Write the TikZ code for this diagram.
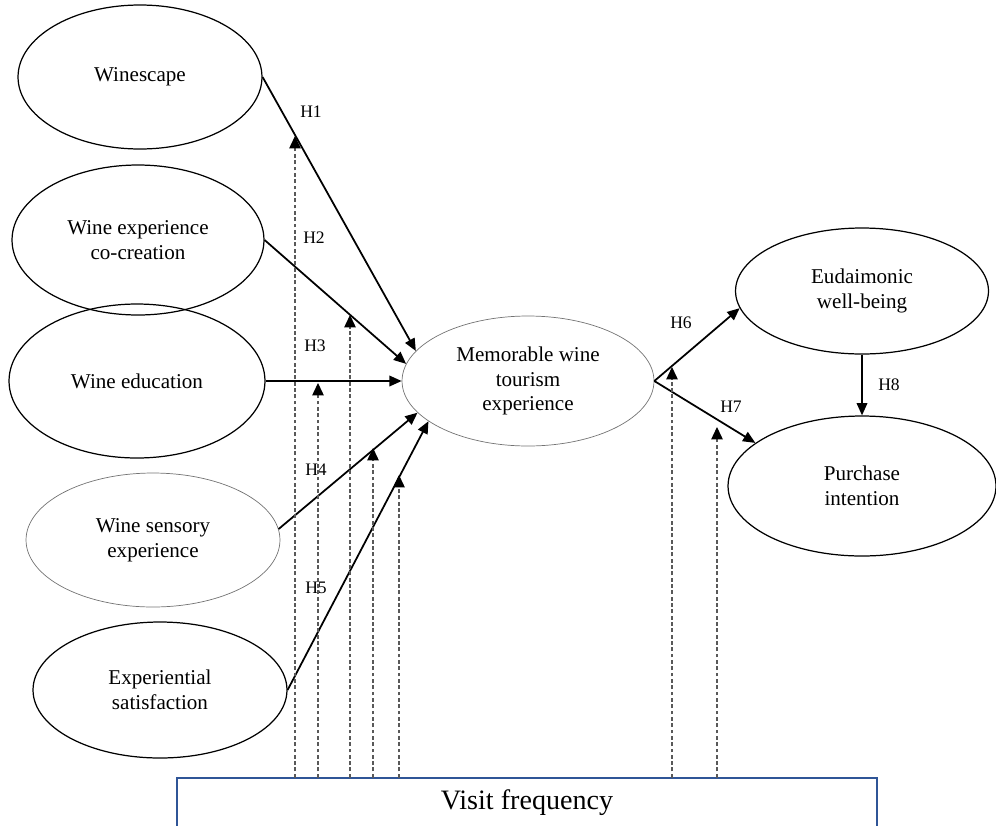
\documentclass[tikz,border=0pt]{standalone}
\usepackage{fontspec}
\setmainfont{Liberation Serif}
\usetikzlibrary{shapes,arrows.meta}
\definecolor{boxblue}{RGB}{47,85,151}

\begin{document}
\begin{tikzpicture}[x=0.02cm, y=-0.02cm,
  construct/.style={ellipse, draw, line width=0.7pt, inner sep=0pt, align=center, font=\fontsize{12}{14}\selectfont},
  faint/.style={draw=black!55, line width=0.4pt},
  hyp/.style={line width=1pt, -{Triangle[length=7pt,width=6pt]}},
  moderator/.style={draw=black!65, line width=0.6pt, dash pattern=on 2.2pt off 1.4pt, -{Triangle[length=7pt,width=6.5pt,black]}},
  hlabel/.style={font=\fontsize{10}{12}\selectfont}]
\useasboundingbox (0,0) rectangle (996,825);

% constructs
\node [construct, minimum width=4.88cm, minimum height=2.88cm] (wsc) at (140,77) {Winescape};
\node [construct, minimum width=5.04cm, minimum height=3.00cm] (cocr) at (138,240) {Wine experience\\co-creation};
\node [construct, minimum width=5.12cm, minimum height=3.08cm] (edu) at (137,381) {Wine education};
\node [construct, faint, minimum width=5.08cm, minimum height=2.68cm] (sens) at (153,540) {Wine sensory\\experience};
\node [construct, minimum width=5.08cm, minimum height=2.72cm] (sat) at (160,690) {Experiential\\satisfaction};
\node [construct, faint, minimum width=5.04cm, minimum height=2.60cm] (mem) at (528,381) {Memorable wine\\tourism\\experience};
\node [construct, minimum width=5.06cm, minimum height=2.52cm] (eud) at (862,291) {Eudaimonic\\well-being};
\node [construct, minimum width=5.36cm, minimum height=2.80cm] (pur) at (862,486) {Purchase\\intention};

% moderator box
\node [minimum width=13.98cm, minimum height=1.0cm, inner sep=0pt, font=\fontsize{16}{18}\selectfont] (freq) at (527,803) {Visit frequency};
\draw [boxblue, line width=1pt] (freq.south west) |- (freq.north east) -- (freq.south east);

% hypotheses
\draw [hyp] (wsc.east) -- (mem.165);
\draw [hyp] (cocr.east) -- (mem.172);
\draw [hyp] (edu.east) -- (mem.west);
\draw [hyp] (sens.5) -- (mem.196);
\draw [hyp] (sat.east) -- (mem.202);
\draw [hyp] (mem.east) -- (eud.188);
\draw [hyp] (mem.east) -- (pur.158);
\draw [hyp] (eud.south) -- (pur.north);

\node [hlabel] (h1) at (311,112) {H1};
\node [hlabel] (h2) at (314,238) {H2};
\node [hlabel] (h3) at (315,346) {H3};
\node [hlabel] (h4) at (316,470) {H4};
\node [hlabel] (h5) at (316,588) {H5};
\node [hlabel] (h6) at (681,323) {H6};
\node [hlabel] (h7) at (731,407) {H7};
\node [hlabel] (h8) at (889,385) {H8};

% moderating effects
\coordinate (m1) at (295,136);
\coordinate (m2) at (318,383);
\coordinate (m3) at (350,315);
\coordinate (m4) at (373,448);
\coordinate (m5) at (399,475);
\coordinate (m6) at (672,367);
\coordinate (m7) at (717,427);
\foreach \m in {m1,m2,m3,m4,m5,m6,m7}
  \draw [moderator] (freq.north -| \m) -- (\m);
\end{tikzpicture}
\end{document}
